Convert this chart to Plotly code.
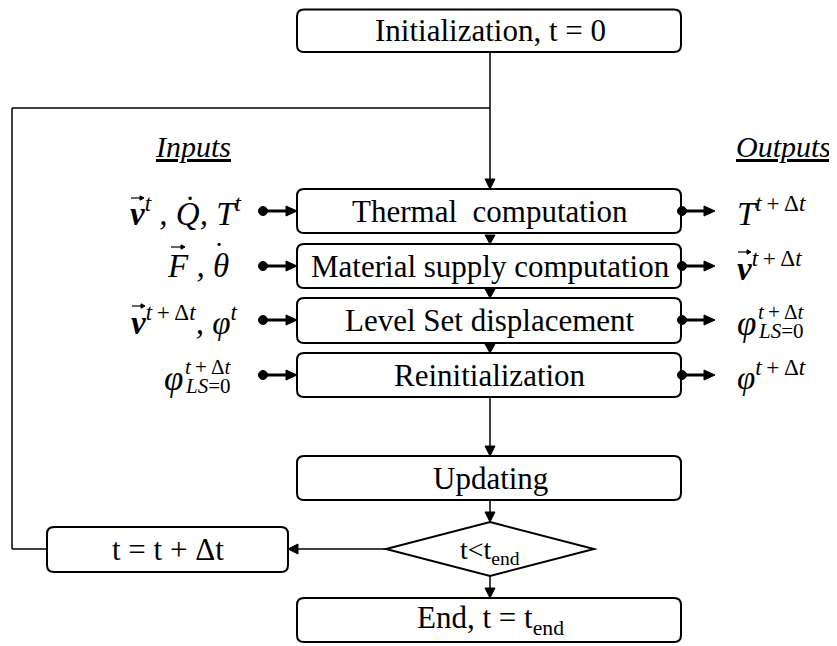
import plotly.graph_objects as go

# ---------------- data (texts) ----------------
box_labels = ["Initialization, t = 0", "Thermal  computation", "Material supply computation",
              "Level Set displacement", "Reinitialization", "Updating", "End, t = t<sub>end</sub>"]
loop_label = "t = t + Δt"
decision_label = "t&lt;t<sub>end</sub>"
inputs_title = "<i><u>Inputs</u></i>"
outputs_title = "<i><u>Outputs</u></i>"
TDT = "<i>t</i>\u2009+\u2009Δ<i>t</i>"
input_labels = ["<b><i>v</i></b><sup><i>t</i></sup><i> , Q\u0307, T</i><sup><i>t</i></sup>",
                "<i>F , θ</i>",
                "<b><i>v</i></b><sup>" + TDT + "</sup><i>, φ</i><sup><i>t</i></sup>",
                None]
output_labels = ["<i>T</i><sup>" + TDT + "</sup>",
                 "<b><i>v</i></b><sup>" + TDT + "</sup>",
                 None,
                 "<i>φ</i><sup>" + TDT + "</sup>"]
phi_main = "<i>φ</i>"
phi_sup = TDT
phi_sub = "<i>LS</i>=0"
theta_dot = "\u02d9"

# ---------------- layout geometry (page pixels) ----------------
W, H = 837, 646
OFF = 8  # default page body margin
BX0, BX1 = 297, 681
CX = 490
box_y = [(9.5, 52), (189, 233), (244, 288), (298, 343), (353, 397), (456, 500), (598, 642)]
loop_box = (47, 527, 288, 572)
dia = dict(l=386, r=594, t=522, b=576)
row_c = [211, 266, 320, 375]
in_x = [128, 165, 129, None]
out_x = 735
LEFT_X = 12
JOIN_Y = 108

SERIF = "Liberation Serif"
BLACK = "#000"
BOX_FS = 31
MATH_FS = 33

shapes = []
annotations = []


def rrect(x0, y0, x1, y1, r=7):
    return (f"M{x0+r},{y0} L{x1-r},{y0} Q{x1},{y0} {x1},{y0+r} L{x1},{y1-r} "
            f"Q{x1},{y1} {x1-r},{y1} L{x0+r},{y1} Q{x0},{y1} {x0},{y1-r} "
            f"L{x0},{y0+r} Q{x0},{y0} {x0+r},{y0} Z")


def line(x0, y0, x1, y1, w=1.5):
    shapes.append(dict(type="line", x0=x0, y0=y0, x1=x1, y1=y1,
                       line=dict(color=BLACK, width=w)))


def head(x, y, d, L=10, hw=5):
    if d == "down":
        p = f"M{x-hw},{y-L} L{x+hw},{y-L} L{x},{y} Z"
    elif d == "left":
        p = f"M{x+L},{y-hw} L{x+L},{y+hw} L{x},{y} Z"
    else:
        p = f"M{x-L},{y-hw} L{x-L},{y+hw} L{x},{y} Z"
    shapes.append(dict(type="path", path=p, fillcolor=BLACK, line=dict(color=BLACK, width=1)))


def vec_arrow(x0, x1, y):
    line(x0, y, x1 - 3, y, w=1.2)
    head(x1, y, "right", L=4, hw=2.2)


def text(x, y, t, size, xanchor="center", yanchor="middle"):
    annotations.append(dict(x=x, y=y, text=t, showarrow=False, xanchor=xanchor, yanchor=yanchor,
                            font=dict(family=SERIF, size=size, color=BLACK)))


# boxes
for (y0, y1), lab in zip(box_y, box_labels):
    shapes.append(dict(type="path", path=rrect(BX0, y0, BX1, y1), line=dict(color=BLACK, width=2),
                       fillcolor="white"))
    text(CX, (y0 + y1) / 2, lab, BOX_FS)

# loop box
lx0, ly0, lx1, ly1 = loop_box
shapes.append(dict(type="path", path=rrect(lx0, ly0, lx1, ly1), line=dict(color=BLACK, width=2),
                   fillcolor="white"))
text((lx0 + lx1) / 2, (ly0 + ly1) / 2, loop_label, BOX_FS)

# diamond
dcy = (dia["t"] + dia["b"]) / 2
shapes.append(dict(type="path",
                   path=f"M{CX},{dia['t']} L{dia['r']},{dcy} L{CX},{dia['b']} L{dia['l']},{dcy} Z",
                   line=dict(color=BLACK, width=2), fillcolor="white"))
text(CX, dcy + 2, decision_label, 28)

# connectors
line(CX, box_y[0][1], CX, box_y[1][0] - 8)
head(CX, box_y[1][0], "down")
line(LEFT_X, JOIN_Y, CX, JOIN_Y)
line(LEFT_X, JOIN_Y, LEFT_X, dcy)
line(LEFT_X, dcy, lx0, dcy)
for i in range(1, 4):
    head(CX, box_y[i + 1][0], "down", L=9, hw=5)
line(CX, box_y[4][1], CX, box_y[5][0] - 8)
head(CX, box_y[5][0], "down")
line(CX, box_y[5][1], CX, dia["t"] - 8)
head(CX, dia["t"], "down")
line(CX, dia["b"], CX, box_y[6][0] - 8)
head(CX, box_y[6][0], "down")
line(dia["l"], dcy, lx1 + 8, dcy)
head(lx1, dcy, "left")

# input / output arrows
for yc in row_c:
    shapes.append(dict(type="circle", x0=263 - 4.5, x1=263 + 4.5, y0=yc - 4.5, y1=yc + 4.5,
                       fillcolor=BLACK, line=dict(color=BLACK, width=1)))
    line(263, yc, BX0 - 9, yc, w=3)
    head(BX0, yc, "right", L=11, hw=5)
    shapes.append(dict(type="circle", x0=682 - 4.5, x1=682 + 4.5, y0=yc - 4.5, y1=yc + 4.5,
                       fillcolor=BLACK, line=dict(color=BLACK, width=1)))
    line(682, yc, 704, yc, w=3)
    head(715, yc, "right", L=11, hw=5)

# titles
text(193, 146, inputs_title, 30)
text(783, 146, outputs_title, 30)

# input/output labels
for yc, x, lab in zip(row_c, in_x, input_labels):
    if lab:
        text(x, yc, lab, MATH_FS, xanchor="left")
for yc, lab in zip(row_c, output_labels):
    if lab:
        text(out_x, yc, lab, MATH_FS, xanchor="left")

# vector arrows and dot accents
vec_arrow(131, 144, row_c[0] - 13)       # v (input row 1)
vec_arrow(171, 185, row_c[1] - 19)       # F (input row 2)
vec_arrow(132, 145, row_c[2] - 14)       # v (input row 3)
vec_arrow(738, 751, row_c[1] - 14)       # v (output row 2)
text(219, row_c[1] - 14, theta_dot, 30)  # dot over theta

# stacked phi labels (row 4 input, row 3 output)
for px, yc in ((162, row_c[3]), (out_x, row_c[2])):
    text(px, yc + 3, phi_main, MATH_FS + 2, xanchor="left")
    text(px + 21, yc - 8, phi_sup, 21, xanchor="left")
    text(px + 21, yc + 11, phi_sub, 21, xanchor="left")

fig = go.Figure()
fig.update_layout(width=W - OFF, height=H - OFF, autosize=False, margin=dict(l=0, r=0, t=0, b=0),
                  paper_bgcolor="white", plot_bgcolor="white",
                  xaxis=dict(range=[OFF, W], visible=False, fixedrange=True),
                  yaxis=dict(range=[H, OFF], visible=False, fixedrange=True),
                  shapes=shapes, annotations=annotations, showlegend=False)
fig.write_html("out.html")
